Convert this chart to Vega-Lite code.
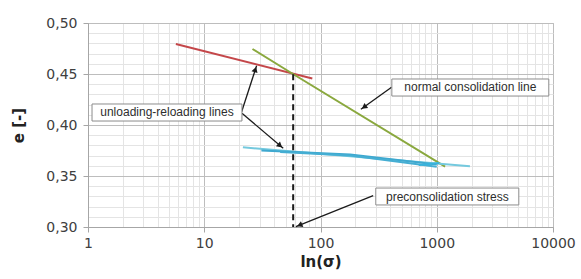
{
  "$schema": "https://vega.github.io/schema/vega-lite/v6.json",
  "width": 465,
  "height": 204,
  "autosize": "none",
  "padding": {"left": 88, "top": 23, "right": 28, "bottom": 52},
  "background": "white",
  "config": {
    "view": {"stroke": "#bfbfbf", "strokeWidth": 1},
    "axis": {"labelFont": "DejaVu Sans", "titleFont": "DejaVu Sans"}
  },
  "datasets": {
    "curves": [
      {"series": "red", "s": 5.7, "e": 0.4795},
      {"series": "red", "s": 85, "e": 0.4455},
      {"series": "green", "s": 26, "e": 0.4745},
      {"series": "green", "s": 58, "e": 0.45},
      {"series": "green", "s": 1180, "e": 0.3592},
      {"series": "lightcyan", "s": 21.5, "e": 0.3781},
      {"series": "lightcyan", "s": 1930, "e": 0.3595},
      {"series": "blue1", "s": 31, "e": 0.375},
      {"series": "blue1", "s": 180, "e": 0.3712},
      {"series": "blue1", "s": 1000, "e": 0.3612},
      {"series": "blue2", "s": 45, "e": 0.3735},
      {"series": "blue2", "s": 180, "e": 0.37},
      {"series": "blue2", "s": 1000, "e": 0.359},
      {"series": "blue3", "s": 700, "e": 0.3608},
      {"series": "blue3", "s": 1050, "e": 0.3628}
    ],
    "arrows": [
      {"name": "ur_up", "s": 20.97, "e": 0.413, "s2": 28.2, "e2": 0.4581},
      {"name": "ur_down", "s": 21.1, "e": 0.4115, "s2": 47.8, "e2": 0.3771},
      {"name": "ncl", "s": 408.6, "e": 0.437, "s2": 222.5, "e2": 0.4154},
      {"name": "pre", "s": 284, "e": 0.3307, "s2": 61.4, "e2": 0.3003}
    ],
    "boxes": [
      {"label": "unloading-reloading lines", "s": 1.083, "s2": 21.1, "e": 0.4206, "e2": 0.4039, "sc": 4.78, "ec": 0.4123},
      {"label": "normal consolidation line", "s": 411, "s2": 9200, "e": 0.4451, "e2": 0.4284, "sc": 1945, "ec": 0.4368},
      {"label": "preconsolidation stress", "s": 299, "s2": 5080, "e": 0.3382, "e2": 0.3216, "sc": 1233, "ec": 0.3299}
    ]
  },
  "resolve": {"axis": {"x": "independent", "y": "independent"}},
  "layer": [
    {
      "data": {"name": "curves"},
      "mark": {"type": "line", "strokeOpacity": 0},
      "encoding": {
        "x": {
          "field": "s", "type": "quantitative",
          "scale": {"type": "log", "domain": [1, 10000], "nice": false},
          "axis": {
            "orient": "top", "title": null, "labels": false, "ticks": false, "domain": false,
            "values": [2,3,4,5,6,7,8,9,20,30,40,50,60,70,80,90,200,300,400,500,600,700,800,900,2000,3000,4000,5000,6000,7000,8000,9000],
            "grid": true, "gridColor": "#e4e4e4", "gridWidth": 1
          }
        },
        "y": {
          "field": "e", "type": "quantitative",
          "scale": {"domain": [0.3, 0.5], "zero": false, "nice": false},
          "axis": {
            "orient": "right", "title": null, "labels": false, "ticks": false, "domain": false,
            "values": [0.31,0.32,0.33,0.34,0.36,0.37,0.38,0.39,0.41,0.42,0.43,0.44,0.46,0.47,0.48,0.49],
            "grid": true, "gridColor": "#e4e4e4", "gridWidth": 1
          }
        }
      }
    },
    {
      "layer": [
        {
          "data": {"name": "curves"},
          "mark": {"type": "line", "strokeWidth": 2},
          "encoding": {
            "x": {
              "field": "s", "type": "quantitative", "title": "ln(σ)",
              "scale": {"type": "log", "domain": [1, 10000], "nice": false},
              "axis": {
                "title": "ln(σ)",
                "titleFontSize": 15, "titleFontWeight": "bold", "titleColor": "#222", "titlePadding": 4,
                "values": [1, 10, 100, 1000, 10000],
                "format": "d",
                "labelOverlap": false, "labelFlush": false, "labelBound": false,
                "labelFontSize": 14, "labelColor": "#404040", "labelPadding": 4,
                "grid": true, "gridColor": "#bdbdbd",
                "tickColor": "#a6a6a6", "tickSize": 5,
                "domainColor": "#a6a6a6"
              }
            },
            "y": {
              "field": "e", "type": "quantitative", "title": "e [-]",
              "scale": {"domain": [0.3, 0.5], "zero": false, "nice": false},
              "axis": {
                "title": "e [-]",
                "titleFontSize": 15, "titleFontWeight": "bold", "titleColor": "#222", "titlePadding": 19,
                "values": [0.30, 0.35, 0.40, 0.45, 0.50],
                "labelExpr": "replace(format(datum.value, '.2f'), '.', ',')",
                "labelOverlap": false, "labelFlush": false, "labelBound": false,
                "labelFontSize": 14, "labelColor": "#404040", "labelPadding": 6,
                "grid": true, "gridColor": "#bdbdbd",
                "tickColor": "#a6a6a6", "tickSize": 5,
                "domainColor": "#a6a6a6"
              }
            },
            "color": {
              "field": "series", "type": "nominal", "legend": null,
              "scale": {
                "domain": ["red", "green", "lightcyan", "blue1", "blue2", "blue3"],
                "range": ["#c4474a", "#8aa83e", "#74c9de", "#3ea8cf", "#45aed3", "#39b3dc"]
              }
            },
            "detail": {"field": "series"}
          }
        },
        {
          "data": {"values": [{"s": 58.2, "e": 0.4497, "e2": 0.3}]},
          "mark": {"type": "rule", "color": "#1a1a1a", "strokeWidth": 2, "strokeDash": [6, 4]},
          "encoding": {
            "x": {"field": "s", "type": "quantitative", "title": "ln(σ)"},
            "y": {"field": "e", "type": "quantitative", "title": "e [-]"},
            "y2": {"field": "e2", "title": "e [-]"}
          }
        },
        {
          "data": {"name": "arrows"},
          "mark": {"type": "rule", "color": "#1a1a1a", "strokeWidth": 1.3},
          "encoding": {
            "x": {"field": "s", "type": "quantitative", "title": "ln(σ)"},
            "y": {"field": "e", "type": "quantitative", "title": "e [-]"},
            "x2": {"field": "s2", "title": "ln(σ)"},
            "y2": {"field": "e2", "title": "e [-]"}
          }
        },
        {
          "data": {"values": [{"s": 27.5, "e": 0.4544}]},
          "mark": {"type": "point", "shape": "triangle-up", "filled": true, "color": "#1a1a1a", "size": 40, "angle": 18, "opacity": 1},
          "encoding": {
            "x": {"field": "s", "type": "quantitative", "title": "ln(σ)"},
            "y": {"field": "e", "type": "quantitative", "title": "e [-]"}
          }
        },
        {
          "data": {"values": [{"s": 44.9, "e": 0.3797}]},
          "mark": {"type": "point", "shape": "triangle-up", "filled": true, "color": "#1a1a1a", "size": 40, "angle": 130, "opacity": 1},
          "encoding": {
            "x": {"field": "s", "type": "quantitative", "title": "ln(σ)"},
            "y": {"field": "e", "type": "quantitative", "title": "e [-]"}
          }
        },
        {
          "data": {"values": [{"s": 237, "e": 0.4176}]},
          "mark": {"type": "point", "shape": "triangle-up", "filled": true, "color": "#1a1a1a", "size": 40, "angle": 234, "opacity": 1},
          "encoding": {
            "x": {"field": "s", "type": "quantitative", "title": "ln(σ)"},
            "y": {"field": "e", "type": "quantitative", "title": "e [-]"}
          }
        },
        {
          "data": {"values": [{"s": 66.1, "e": 0.3018}]},
          "mark": {"type": "point", "shape": "triangle-up", "filled": true, "color": "#1a1a1a", "size": 40, "angle": 248, "opacity": 1},
          "encoding": {
            "x": {"field": "s", "type": "quantitative", "title": "ln(σ)"},
            "y": {"field": "e", "type": "quantitative", "title": "e [-]"}
          }
        },
        {
          "data": {"name": "boxes"},
          "mark": {"type": "rect", "fill": "white", "stroke": "#8c8c8c", "strokeWidth": 1},
          "encoding": {
            "x": {"field": "s", "type": "quantitative", "title": "ln(σ)"},
            "x2": {"field": "s2", "title": "ln(σ)"},
            "y": {"field": "e", "type": "quantitative", "title": "e [-]"},
            "y2": {"field": "e2", "title": "e [-]"}
          }
        },
        {
          "data": {"name": "boxes"},
          "mark": {"type": "text", "font": "Liberation Sans", "fontSize": 12, "color": "#2e2e2e", "align": "center", "baseline": "middle"},
          "encoding": {
            "x": {"field": "sc", "type": "quantitative", "title": "ln(σ)"},
            "y": {"field": "ec", "type": "quantitative", "title": "e [-]"},
            "text": {"field": "label"}
          }
        }
      ]
    }
  ]
}
